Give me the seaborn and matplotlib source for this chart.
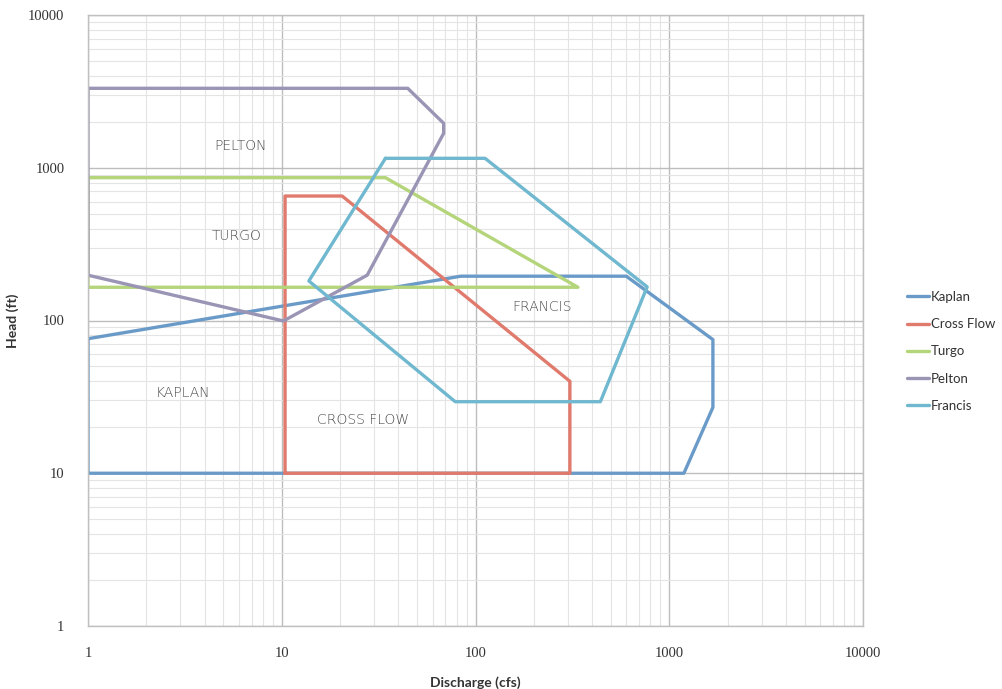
import matplotlib
matplotlib.use("Agg")
import matplotlib.pyplot as plt
import matplotlib.ticker as mticker
import seaborn as sns
import pandas as pd

# ---- data (polygon vertices) ----
kaplan_q = [1, 84, 600, 1680, 1680, 1190, 1]
kaplan_h = [76, 195, 195, 75, 27, 10, 10]

crossflow_q = [10.4, 10.4, 20.5, 307, 307]
crossflow_h = [10, 653, 653, 40, 10]

turgo_q = [1, 34.3, 338, 1]
turgo_h = [861, 861, 165, 165]

pelton_q = [1, 44.7, 68.5, 68.5, 27.6, 10.2, 1]
pelton_h = [3312, 3312, 1954, 1681, 198, 99.3, 198]

francis_q = [34.3, 112, 769, 441, 78.6, 13.8]
francis_h = [1153, 1153, 166, 29.4, 29.4, 181.5]

series_names = ["Kaplan", "Cross Flow", "Turgo", "Pelton", "Francis"]
colors = ["#6a9bc8", "#e07a6c", "#b5d57b", "#9a94b5", "#6fb8cf"]

region_labels = ["PELTON", "TURGO", "FRANCIS", "KAPLAN", "CROSS FLOW"]
label_q = [6.1, 5.85, 221, 3.09, 26.2]
label_h = [1388, 357, 123, 33.5, 22.3]

tick_vals = [1, 10, 100, 1000, 10000]

# ---- build long-form table (closing each polygon) ----
rows = []
for name, qs, hs in [("Kaplan", kaplan_q, kaplan_h),
                     ("Cross Flow", crossflow_q, crossflow_h),
                     ("Turgo", turgo_q, turgo_h),
                     ("Pelton", pelton_q, pelton_h),
                     ("Francis", francis_q, francis_h)]:
    qq = list(qs) + [qs[0]]
    hh = list(hs) + [hs[0]]
    for i, (q, h) in enumerate(zip(qq, hh)):
        rows.append({"Type": name, "Discharge": q, "Head": h, "order": i})
df = pd.DataFrame(rows)

sns.set_theme(style="white")
plt.rcParams["font.family"] = ["Lato", "DejaVu Sans"]

fig = plt.figure(figsize=(10.02, 6.89), dpi=100)
ax = fig.add_axes([88 / 1002, 1 - 626 / 689, (863 - 88) / 1002, (626 - 15) / 689])

ax.set_xscale("log")
ax.set_yscale("log")
ax.set_xlim(1, 10000)
ax.set_ylim(1, 10000)

ax.grid(True, which="minor", color="#e4e4e4", linewidth=0.8)
ax.grid(True, which="major", color="#bdbdbd", linewidth=1.0)
ax.set_axisbelow(True)

sns.lineplot(data=df, x="Discharge", y="Head", hue="Type", hue_order=series_names,
             palette=dict(zip(series_names, colors)), sort=False, estimator=None,
             linewidth=2.4, ax=ax, legend=True)

ax.xaxis.set_major_locator(mticker.FixedLocator(tick_vals))
ax.yaxis.set_major_locator(mticker.FixedLocator(tick_vals))
ax.xaxis.set_minor_locator(mticker.LogLocator(base=10, subs=range(2, 10)))
ax.yaxis.set_minor_locator(mticker.LogLocator(base=10, subs=range(2, 10)))
ax.xaxis.set_major_formatter(mticker.FixedFormatter([str(v) for v in tick_vals]))
ax.yaxis.set_major_formatter(mticker.FixedFormatter([str(v) for v in tick_vals]))
ax.xaxis.set_minor_formatter(mticker.NullFormatter())
ax.yaxis.set_minor_formatter(mticker.NullFormatter())
ax.tick_params(which="both", length=0)
ax.tick_params(axis="x", pad=15, labelsize=10.5, colors="#333333")
ax.tick_params(axis="y", pad=17, labelsize=10.5, colors="#333333")
for lab in ax.get_xticklabels() + ax.get_yticklabels():
    lab.set_family(["Liberation Serif", "DejaVu Serif"])

for s in ax.spines.values():
    s.set_color("#c0c0c0")
    s.set_linewidth(1.0)

ax.set_xlabel("Discharge (cfs)", fontsize=10, fontweight="bold", color="#333333", labelpad=12)
ax.set_ylabel("Head (ft)", fontsize=10, fontweight="bold", color="#333333")
ax.yaxis.set_label_coords(-0.089, 0.5)

for txt, q, h in zip(region_labels, label_q, label_h):
    ax.text(q, h, txt, ha="center", va="center", fontsize=10, color="#4a4a4a",
            family=["DejaVu Sans"], fontweight="light")

handles, labels = ax.get_legend_handles_labels()
ax.legend_.remove()
fig.legend(handles, labels, loc="center left", bbox_to_anchor=(0.893, 0.49),
           frameon=False, fontsize=9.5, labelspacing=1.15, handlelength=1.7,
           handletextpad=0.15, labelcolor="#333333")

fig.savefig("out.png", dpi=100, facecolor="white")
